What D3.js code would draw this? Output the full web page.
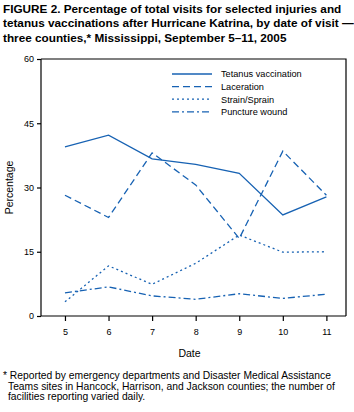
<!DOCTYPE html>
<html>
<head>
<meta charset="utf-8">
<script src="https://cdn.jsdelivr.net/npm/d3@7"></script>
<style>
  html, body { margin: 0; padding: 0; background: #fff; }
  svg { display: block; }
  text { font-family: "Liberation Sans", Arial, sans-serif; fill: #000; }
</style>
</head>
<body>
<svg id="chart" width="354" height="412"></svg>
<script>
const dates = [5, 6, 7, 8, 9, 10, 11];
const tetanus = [39.5, 42.2, 36.7, 35.4, 33.3, 23.6, 27.8];
const laceration = [28.2, 23.0, 38.1, 30.6, 18.1, 38.5, 28.2];
const strain = [3.3, 11.7, 7.4, 12.3, 18.9, 14.9, 15.0];
const puncture = [5.4, 6.8, 4.7, 3.9, 5.2, 4.1, 5.1];
const seriesNames = ["Tetanus vaccination", "Laceration", "Strain/Sprain", "Puncture wound"];
const yTicks = [0, 15, 30, 45, 60];
const titleLines = [
  "FIGURE 2. Percentage of total visits for selected injuries and",
  "tetanus vaccinations after Hurricane Katrina, by date of visit \u2014",
  "three counties,* Mississippi, September 5\u201311, 2005"
];
const footLines = [
  "* Reported by emergency departments and Disaster Medical Assistance",
  "Teams sites in Hancock, Harrison, and Jackson counties; the number of",
  "facilities reporting varied daily."
];

const color = "#1762b3";
const dashes = [null, "7,4", "2,3", "7,3,2,3"];
const svg = d3.select("#chart");

const pLeft = 41, pRight = 346, pTop = 59, pBottom = 316;
const x = d3.scaleLinear().domain([4.45, 11.45]).range([pLeft, pRight]);
const y = d3.scaleLinear().domain([0, 60]).range([pBottom, pTop]);

// Title
svg.append("g").selectAll("text").data(titleLines).join("text")
  .attr("x", 3).attr("y", (d, i) => 12.5 + i * 14.5)
  .attr("font-size", 11.75).attr("font-weight", "bold")
  .text(d => d);

// Frame (top and right)
svg.append("path")
  .attr("d", `M${pLeft},${pTop}H${pRight}V${pBottom}`)
  .attr("fill", "none").attr("stroke", "#000").attr("stroke-width", 1.2);

// Axes
const yAxis = d3.axisLeft(y).tickValues(yTicks).tickSize(4).tickPadding(3).tickFormat(d3.format("d"));
const gy = svg.append("g").attr("transform", `translate(${pLeft},0)`).call(yAxis);
gy.select(".domain").attr("d", `M0,${pTop}V${pBottom}`).attr("stroke-width", 1.2);
gy.selectAll(".tick line").attr("stroke-width", 1.2);
gy.selectAll("text").attr("font-size", 9).attr("font-family", "Liberation Sans, Arial, sans-serif");

const xAxis = d3.axisBottom(x).tickValues(dates).tickSize(5).tickPadding(8).tickFormat(d3.format("d"));
const gx = svg.append("g").attr("transform", `translate(0,${pBottom})`).call(xAxis);
gx.select(".domain").attr("d", `M${pLeft},0H${pRight}`).attr("stroke-width", 1.2);
gx.selectAll(".tick line").attr("stroke-width", 1.2);
gx.selectAll("text").attr("font-size", 9).attr("font-family", "Liberation Sans, Arial, sans-serif");

// Axis titles
svg.append("text").attr("x", (pLeft + pRight) / 2 - 4).attr("y", 357)
  .attr("text-anchor", "middle").attr("font-size", 10.5).text("Date");
svg.append("text").attr("transform", `translate(13,${(pTop + pBottom) / 2}) rotate(-90)`)
  .attr("text-anchor", "middle").attr("font-size", 10.5).text("Percentage");

// Lines
const allSeries = [tetanus, laceration, strain, puncture];
const line = d3.line().x((d, i) => x(dates[i])).y(d => y(d));
allSeries.forEach((s, k) => {
  svg.append("path").datum(s)
    .attr("d", line)
    .attr("fill", "none").attr("stroke", color).attr("stroke-width", 1.3)
    .attr("stroke-dasharray", dashes[k]);
});

// Legend
const lg = svg.append("g");
seriesNames.forEach((name, k) => {
  const ly = 74 + k * 12.6;
  lg.append("line").attr("x1", 172).attr("x2", 212).attr("y1", ly).attr("y2", ly)
    .attr("stroke", color).attr("stroke-width", 1.3).attr("stroke-dasharray", dashes[k]);
  lg.append("text").attr("x", 221).attr("y", ly + 3.3).attr("font-size", 9.2).text(name);
});

// Footnote
svg.append("g").selectAll("text").data(footLines).join("text")
  .attr("x", (d, i) => i === 0 ? 3 : 8).attr("y", (d, i) => 379 + i * 10.6)
  .attr("font-size", 10.3).text(d => d);
</script>
</body>
</html>
